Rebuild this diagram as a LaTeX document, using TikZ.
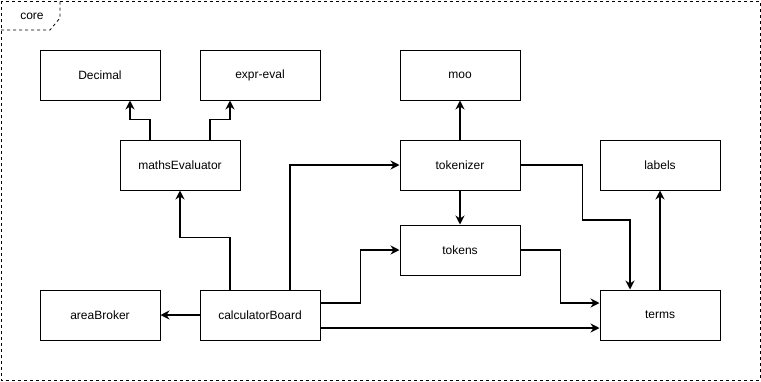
\documentclass[tikz,border=0pt]{standalone}
\usepackage{fontspec}
\setmainfont{Liberation Sans}
\usetikzlibrary{arrows.meta}

\tikzset{
  box/.style={draw, line width=1pt, minimum width=120pt, minimum height=50pt,
    inner sep=0pt, font=\fontsize{12}{14}\selectfont},
  link/.style={-{Stealth[length=9pt, width=9pt, inset=3pt]}, line width=1.6pt},
  frame/.style={dashed, line width=0.8pt}
}

\begin{document}
\begin{tikzpicture}[x=1pt, y=-1pt]
  \useasboundingbox (0,0) rectangle (761,381);

  % package frame with its tab
  \draw[frame] (1,1) rectangle (760,380);
  \draw[frame] (1,30) -- (50,30) -- (60,18) -- (60,1);
  \node[font=\fontsize{12}{14}\selectfont] (core) at (32,16) {core};

  % modules
  \node[box] (decimal)    at (100,75)  {Decimal};
  \node[box] (expreval)   at (260,75)  {expr-eval};
  \node[box] (moo)        at (460,75)  {moo};
  \node[box] (maths)      at (180,165) {mathsEvaluator};
  \node[box] (tokenizer)  at (460,165) {tokenizer};
  \node[box] (labels)     at (660,165) {labels};
  \node[box] (tokens)     at (460,250) {tokens};
  \node[box] (areabroker) at (100,315) {areaBroker};
  \node[box] (board)      at (260,315) {calculatorBoard};
  \node[box] (terms)      at (660,315) {terms};

  % dependencies
  \draw[link] ([xshift=-30pt]maths.north) -- ++(0,-20) -| ([xshift=30pt]decimal.south);
  \draw[link] ([xshift=30pt]maths.north) -- ++(0,-20) -| ([xshift=-30pt]expreval.south);
  \draw[link] (board.west) -- (areabroker.east);
  \draw[link] ([xshift=-30pt]board.north) -- ++(0,-52) -| (maths.south);
  \draw[link] ([xshift=30pt]board.north) |- (tokenizer.west);
  \draw[link] ([yshift=12pt]board.east) -- ++(40,0) |- (tokens.west);
  \draw[link] ([yshift=-13pt]board.east) -- ([yshift=-13pt]terms.west);
  \draw[link] (tokenizer.north) -- (moo.south);
  \draw[link] (tokenizer.south) -- (tokens.north);
  \draw[link] (tokenizer.east) -- ++(62,0) -- ++(0,55) -| ([xshift=-30pt]terms.north);
  \draw[link] (tokens.east) -- ++(40,0) |- ([yshift=12pt]terms.west);
  \draw[link] (terms.north) -- (labels.south);
\end{tikzpicture}
\end{document}
